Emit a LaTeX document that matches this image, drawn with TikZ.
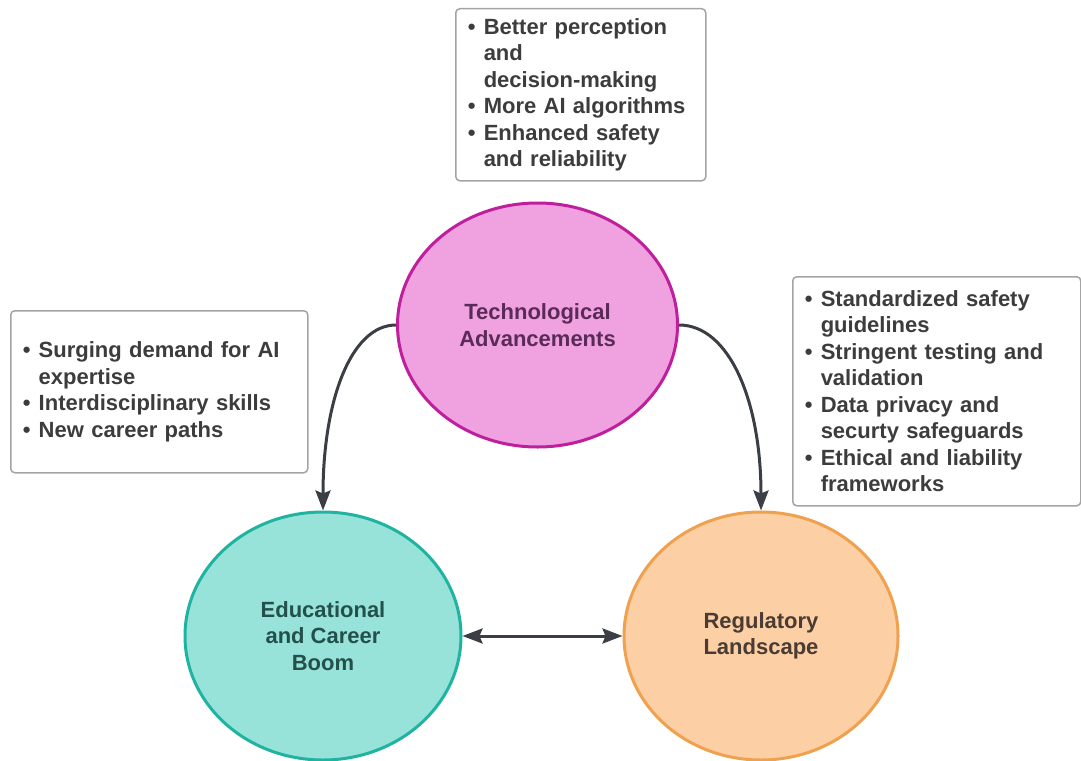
\documentclass[tikz,border=0pt]{standalone}
\usepackage{fontspec}
\setmainfont{Liberation Sans}
\usetikzlibrary{arrows.meta,shapes.geometric}
\definecolor{techfill}{HTML}{EFA2DF}
\definecolor{techline}{HTML}{BF1F9C}
\definecolor{techtext}{HTML}{5A2B58}
\definecolor{edufill}{HTML}{97E3DA}
\definecolor{eduline}{HTML}{1FB3A1}
\definecolor{edutext}{HTML}{24504C}
\definecolor{regfill}{HTML}{FCCFA5}
\definecolor{regline}{HTML}{F0A14F}
\definecolor{regtext}{HTML}{4A3B33}
\definecolor{boxgray}{HTML}{A4A4A4}
\definecolor{boxtext}{HTML}{3C3C3C}
\definecolor{linkgray}{HTML}{3B3F45}
\newcommand{\bitem}{\makebox[16pt][l]{\textbullet}}
\newcommand{\bcont}{\hspace*{16pt}}

\begin{document}
\begin{tikzpicture}[x=1pt,y=-1pt,
  font=\fontsize{22}{26.5}\selectfont\bfseries,
  hub/.style={ellipse,line width=3pt,inner sep=0pt,align=center},
  notebox/.style={draw=boxgray,line width=1.5pt,rounded corners=4pt,
    anchor=north west,align=left,inner xsep=12pt,text=boxtext},
  tip/.tip={Stealth[length=20pt,width=15pt,inset=3pt]},
  link/.style={-tip,draw=linkgray,line width=3pt}]
 \useasboundingbox (0,0) rectangle (1081,760);
 \node[hub,fill=techfill,draw=techline,text=techtext,
       minimum width=280pt,minimum height=244pt] (tech) at (537.5,325)
      {Technological\\Advancements};
 \node[hub,fill=edufill,draw=eduline,text=edutext,
       minimum width=276pt,minimum height=248pt] (edu) at (323,636)
      {Educational\\and Career\\Boom};
 \node[hub,fill=regfill,draw=regline,text=regtext,
       minimum width=274pt,minimum height=248pt] (reg) at (761,636)
      {Regulatory\\Landscape};
 \node[notebox,minimum width=250pt,minimum height=172pt,text width=226pt]
      (techbox) at (455,8)
      {\bitem Better perception\\ \bcont and\\ \bcont decision-making\\
       \bitem More AI algorithms\\
       \bitem Enhanced safety\\ \bcont and reliability};
 \node[notebox,minimum width=297pt,minimum height=162pt,text width=273pt]
      (edubox) at (10,310)
      {\bitem Surging demand for AI\\ \bcont expertise\\
       \bitem Interdisciplinary skills\\
       \bitem New career paths};
 \node[notebox,minimum width=288pt,minimum height=229pt,text width=264pt]
      (regbox) at (792,276)
      {\bitem Standardized safety\\ \bcont guidelines\\
       \bitem Stringent testing and\\ \bcont validation\\
       \bitem Data privacy and\\ \bcont securty safeguards\\
       \bitem Ethical and liability\\ \bcont frameworks};
 \draw[link] (tech.west) .. controls +(-45,0) and +(0,-110) .. (edu.north);
 \draw[link] (tech.east) .. controls +(50,0) and +(0,-110) .. (reg.north);
 \draw[link,tip-tip] (edu.east) -- (reg.west);
\end{tikzpicture}
\end{document}
